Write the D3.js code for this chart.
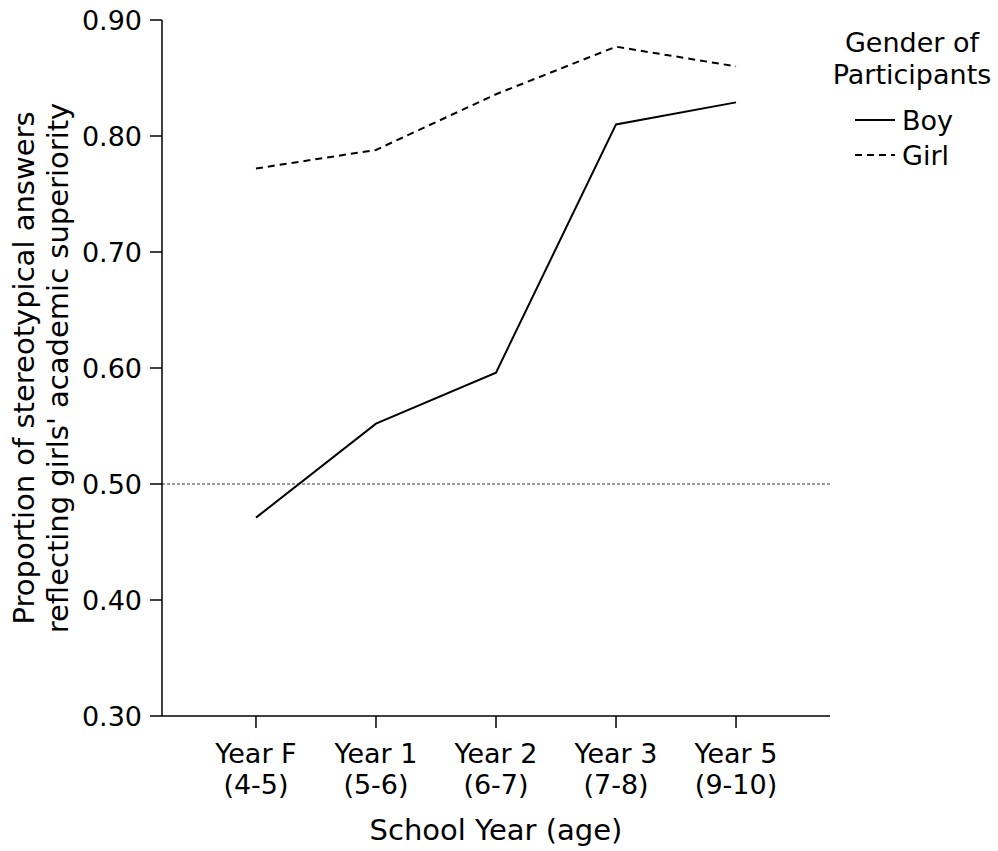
<!DOCTYPE html>
<html lang="en">
<head>
<meta charset="utf-8">
<script src="https://cdn.jsdelivr.net/npm/d3@7"></script>
<style>
body { margin: 0; background: #fff; }
text { font-family: "DejaVu Sans", Verdana, sans-serif; fill: #000; }
</style>
</head>
<body>
<script>
var categories = ["Year F|(4-5)", "Year 1|(5-6)", "Year 2|(6-7)", "Year 3|(7-8)", "Year 5|(9-10)"];
var boyValues = [0.471, 0.552, 0.596, 0.810, 0.829];
var girlValues = [0.772, 0.788, 0.836, 0.877, 0.860];
var yTicks = [0.30, 0.40, 0.50, 0.60, 0.70, 0.80, 0.90];

var w = 998, h = 851;
var svg = d3.select("body").append("svg").attr("width", w).attr("height", h);

var xScale = d3.scalePoint().domain(categories).range([162, 830]).padding(0.783);
var yScale = d3.scaleLinear().domain([0.30, 0.90]).range([716, 20]);

// y axis
svg.append("line").attr("x1", 162).attr("x2", 162).attr("y1", 20).attr("y2", 716)
   .attr("stroke", "#000").attr("stroke-width", 1.5);
yTicks.forEach(function(t) {
	svg.append("line").attr("x1", 150).attr("x2", 162)
	   .attr("y1", yScale(t)).attr("y2", yScale(t)).attr("stroke", "#000").attr("stroke-width", 1.5);
	svg.append("text").attr("x", 142).attr("y", yScale(t) + 10).attr("text-anchor", "end")
	   .attr("font-size", "27px").text(t.toFixed(2));
});

// x axis
svg.append("line").attr("x1", 162).attr("x2", 830).attr("y1", 716).attr("y2", 716)
   .attr("stroke", "#000").attr("stroke-width", 1.5);
categories.forEach(function(c) {
	var x = xScale(c);
	svg.append("line").attr("x1", x).attr("x2", x).attr("y1", 716).attr("y2", 728)
	   .attr("stroke", "#000").attr("stroke-width", 1.5);
	var parts = c.split("|");
	svg.append("text").attr("x", x).attr("y", 763).attr("text-anchor", "middle")
	   .attr("font-size", "27px").text(parts[0]);
	svg.append("text").attr("x", x).attr("y", 794).attr("text-anchor", "middle")
	   .attr("font-size", "27px").text(parts[1]);
});

// reference line at 0.50
svg.append("line").attr("x1", 162).attr("x2", 830).attr("y1", yScale(0.5)).attr("y2", yScale(0.5))
   .attr("stroke", "#000").attr("stroke-width", 0.8).attr("stroke-dasharray", "3,2");

var line = d3.line().x(function(d, i) { return xScale(categories[i]); }).y(function(d) { return yScale(d); });

svg.append("path").datum(boyValues).attr("d", line).attr("fill", "none")
   .attr("stroke", "#000").attr("stroke-width", 2);
svg.append("path").datum(girlValues).attr("d", line).attr("fill", "none")
   .attr("stroke", "#000").attr("stroke-width", 2).attr("stroke-dasharray", "7,5");

// axis titles
svg.append("text").attr("x", 496).attr("y", 840).attr("text-anchor", "middle")
   .attr("font-size", "29px").text("School Year (age)");
svg.append("text").attr("transform", "translate(34,368) rotate(-90)").attr("text-anchor", "middle")
   .attr("font-size", "29px").text("Proportion of stereotypical answers");
svg.append("text").attr("transform", "translate(68,368) rotate(-90)").attr("text-anchor", "middle")
   .attr("font-size", "29px").text("reflecting girls' academic superiority");

// legend
svg.append("text").attr("x", 912).attr("y", 52).attr("text-anchor", "middle").attr("font-size", "27px").text("Gender of");
svg.append("text").attr("x", 912).attr("y", 84).attr("text-anchor", "middle").attr("font-size", "27px").text("Participants");
svg.append("line").attr("x1", 855).attr("x2", 895).attr("y1", 120).attr("y2", 120).attr("stroke", "#000").attr("stroke-width", 2);
svg.append("text").attr("x", 902).attr("y", 130).attr("font-size", "27px").text("Boy");
svg.append("line").attr("x1", 855).attr("x2", 895).attr("y1", 155).attr("y2", 155).attr("stroke", "#000").attr("stroke-width", 2).attr("stroke-dasharray", "7,5");
svg.append("text").attr("x", 902).attr("y", 165).attr("font-size", "27px").text("Girl");
</script>
</body>
</html>
